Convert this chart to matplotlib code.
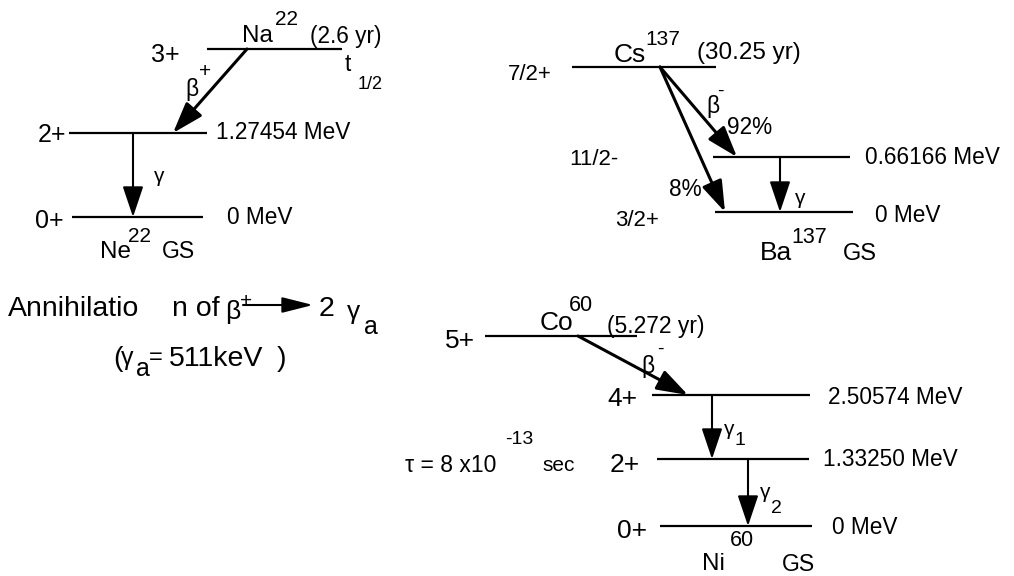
import matplotlib
matplotlib.use('Agg')
import matplotlib.pyplot as plt

plt.rcParams['font.family'] = ['Liberation Sans', 'DejaVu Sans']

########################################################################
# decay data
########################################################################
parents = ['Na', 'Cs', 'Co']
parent_mass = ['22', '137', '60']
half_lives = ['(2.6 yr)', '(30.25 yr)', '(5.272 yr)']
daughters = ['Ne', 'Ba', 'Ni']

na_spins = ['3+', '2+', '0+']
na_energies = ['', '1.27454 MeV', '0 MeV']

cs_spins = ['7/2+', '11/2-', '3/2+']
cs_energies = ['', '0.66166 MeV', '0 MeV']
cs_branches = ['92%', '8%']

co_spins = ['5+', '4+', '2+', '0+']
co_energies = ['', '2.50574 MeV', '1.33250 MeV', '0 MeV']
co_lifetime = ['\u03c4 = 8 x10', '-13', 'sec']

annihilation = ['Annihilatio', 'n of', '511keV']

########################################################################
# layout in pixels (figure is 1014 x 576, y down)
########################################################################
na_lev = [(207, 342, 49), (69, 207, 133), (72, 203, 217)]
na_spin_xy = [(165, 52), (52, 133), (49, 218)]
cs_lev = [(572, 716, 67), (713, 850, 157), (715, 853, 212)]
cs_spin_xy = [(530, 72), (594, 157), (637, 218)]
co_lev = [(485, 637, 336), (652, 810, 395), (657, 809, 459), (660, 812, 526)]
co_spin_xy = [(460, 339), (622, 396), (625, 462), (632, 528)]

fig = plt.figure(figsize=(10.14, 5.76), dpi=100)
ax = fig.add_axes([0, 0, 1, 1])
ax.set_xlim(0, 1014)
ax.set_ylim(576, 0)
ax.axis('off')


def level(l):
    ax.plot([l[0], l[1]], [l[2], l[2]], color='black', lw=1.6, solid_capstyle='butt')


def arrow(p0, p1, lw=2.2, hl=0.95, hw=0.32):
    ax.annotate('', xy=p1, xytext=p0,
                arrowprops=dict(arrowstyle='-|>,head_length=%g,head_width=%g' % (hl, hw),
                                mutation_scale=20, lw=lw, color='black',
                                shrinkA=0, shrinkB=0))


def txt(x, y, s, size=16.3, ha='left'):
    # small shift down so the glyphs sit where they sit in the scan
    ax.text(x, y + 2.5, s, fontsize=size, ha=ha, va='center', color='black')


# ---------------- Na22 ----------------
for l in na_lev:
    level(l)
for s, (x, y) in zip(na_spins, na_spin_xy):
    txt(x, y, s, 18, 'center')
txt(242, 34, parents[0], 17.5)
txt(275, 17, parent_mass[0], 15)
txt(310, 34, half_lives[0])
txt(345, 62, 't')
txt(358, 82, '1/2', 13)
arrow((247, 49), (173, 133))
txt(185, 87, '\u03b2', 16.5)
txt(199, 69, '+', 15)
txt(216, 130, na_energies[1])
arrow((133, 133), (133, 217), lw=1.5)
txt(154, 174, '\u03b3', 15)
txt(227, 215, na_energies[2])
txt(100, 249, daughters[0], 17.5)
txt(128, 234, parent_mass[0], 15)
txt(162, 249, 'GS', 16.5)

# ---------------- Cs137 ----------------
for l in cs_lev:
    level(l)
for s, (x, y) in zip(cs_spins, cs_spin_xy):
    txt(x, y, s, 16, 'center')
txt(614, 53, parents[1], 19)
txt(645, 37, parent_mass[1], 15)
txt(697, 51, half_lives[1], 17.5)
arrow((660, 67), (737, 157))
arrow((660, 67), (725, 212))
txt(706, 104, '\u03b2', 16.5)
txt(717, 89, '-', 14)
txt(727, 125, cs_branches[0])
txt(669, 187, cs_branches[1])
txt(865, 155, cs_energies[1])
arrow((780, 157), (780, 212), lw=1.5)
txt(795, 196, '\u03b3', 15)
txt(875, 213, cs_energies[2])
txt(760, 250, daughters[1], 19)
txt(791, 235, parent_mass[1], 15.5)
txt(843, 251, 'GS', 17)

# ---------------- annihilation ----------------
txt(8, 307, annihilation[0], 20.5)
txt(172, 307, annihilation[1], 20.5)
txt(225, 309, '\u03b2', 19)
txt(240, 299, '+', 15)
arrow((243, 305), (313, 305), lw=1.5, hl=0.95, hw=0.24)
txt(319, 307, '2', 20.5)
txt(347, 309, '\u03b3', 19)
txt(364, 325, 'a', 18)
txt(113, 356, '(', 20.5)
txt(121, 356, '\u03b3', 18)
txt(136, 367, 'a', 18)
txt(149, 356, '=', 17)
txt(169, 356, annihilation[2], 20.5)
txt(277, 356, ')', 20.5)

# ---------------- Co60 ----------------
for l in co_lev:
    level(l)
for s, (x, y) in zip(co_spins, co_spin_xy):
    txt(x, y, s, 19, 'center')
txt(540, 321, parents[2], 19)
txt(569, 303, parent_mass[2], 15.5)
txt(607, 324, half_lives[2], 16.5)
arrow((578, 336), (688, 395))
txt(641, 364, '\u03b2', 16.5)
txt(657, 347, '-', 14)
txt(828, 395, co_energies[1])
arrow((712, 395), (712, 459), lw=1.5)
txt(724, 427, '\u03b3', 15)
txt(735, 438, '1', 14)
txt(823, 457, co_energies[2])
txt(405, 463, co_lifetime[0], 16.5)
txt(505, 437, co_lifetime[1], 14)
txt(542, 463, co_lifetime[2], 15)
arrow((748, 459), (748, 526), lw=1.5)
txt(760, 490, '\u03b3', 15)
txt(771, 506, '2', 14)
txt(832, 525, co_energies[3])
txt(702, 562, daughters[2], 17.5)
txt(730, 538, parent_mass[2], 15.5)
txt(782, 562, 'GS', 16.5)

fig.savefig('out.png', dpi=100)
